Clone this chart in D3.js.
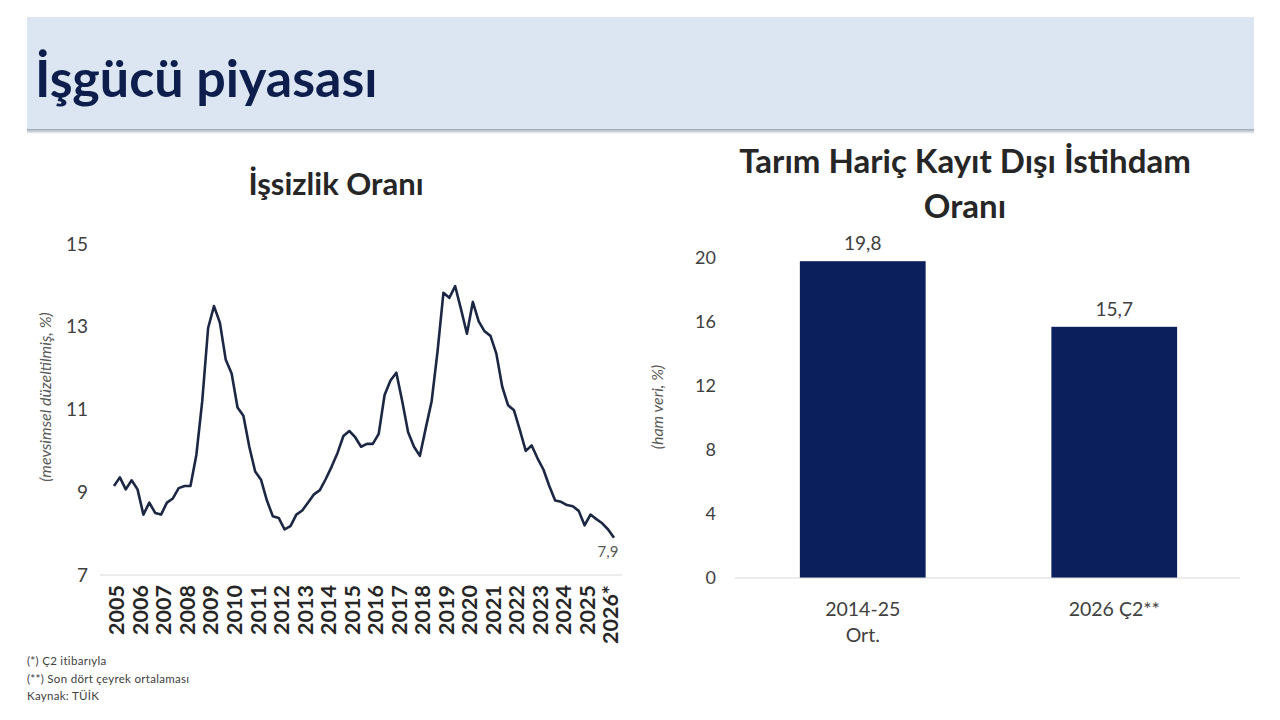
<!DOCTYPE html>
<html><head><meta charset="utf-8">
<script src="https://cdn.jsdelivr.net/npm/d3@7/dist/d3.min.js"></script>
<style>html,body{margin:0;padding:0;background:#fff}svg{display:block}</style>
</head><body>
<svg id="c" width="1280" height="720"></svg>
<script>
// ---- Data ----
const pageTitle = "İşgücü piyasası";
const leftTitle = "İşsizlik Oranı";
const leftAxisTitle = "(mevsimsel düzeltilmiş, %)";
const startYear = 2005;
// quarterly, 2005Ç1 - 2026Ç2
const unemployment = [
 9.15,9.36,9.07,9.29, 9.07,8.46,8.75,8.5, 8.46,8.75,8.85,9.1, 9.15,9.15,9.9,11.2,
 12.97,13.5,13.1,12.2, 11.87,11.05,10.85,10.1, 9.5,9.3,8.8,8.42, 8.38,8.1,8.18,8.46,
 8.56,8.75,8.95,9.05, 9.32,9.62,9.95,10.36, 10.48,10.33,10.1,10.17, 10.17,10.41,11.35,11.7,
 11.89,11.2,10.45,10.1, 9.88,10.55,11.2,12.4, 13.82,13.7,13.98,13.42, 12.83,13.6,13.13,12.89,
 12.78,12.35,11.55,11.1, 10.98,10.5,10.0,10.13, 9.82,9.55,9.15,8.8, 8.77,8.69,8.66,8.55,
 8.2,8.46,8.35,8.25, 8.1,7.9
];
const yearLabels = ["2005","2006","2007","2008","2009","2010","2011","2012","2013","2014","2015",
 "2016","2017","2018","2019","2020","2021","2022","2023","2024","2025","2026*"];
const leftTicks = [7,9,11,13,15];
const lastLabel = "7,9";

const rightTitle = ["Tarım Hariç Kayıt Dışı İstihdam","Oranı"];
const rightAxisTitle = "(ham veri, %)";
const barCats = ["2014-25|Ort.","2026 Ç2**"];
const barValues = [19.8, 15.7];
const barLabels = ["19,8","15,7"];
const rightTicks = [0,4,8,12,16,20];

const footnotes = ["(*) Ç2 itibarıyla","(**) Son dört çeyrek ortalaması","Kaynak: TÜİK"];

// ---- Drawing ----
const svg = d3.select("#c");
const F = "Lato, 'Open Sans', 'DejaVu Sans', sans-serif";
const navy = "#0a1f5c";

// header band
const grad = svg.append("defs").append("linearGradient").attr("id","sh").attr("x1",0).attr("x2",0).attr("y1",0).attr("y2",1);
grad.append("stop").attr("offset","0%").attr("stop-color","#9aa6b4");
grad.append("stop").attr("offset","100%").attr("stop-color","#ffffff");
svg.append("rect").attr("x",27).attr("y",129).attr("width",1227).attr("height",5).attr("fill","url(#sh)");
svg.append("rect").attr("x",27).attr("y",17).attr("width",1227).attr("height",112).attr("fill","#dce6f2");
svg.append("text").attr("x",35).attr("y",97).attr("font-family",F).attr("font-weight",700)
  .attr("font-size",52).attr("fill","#0d1e4c").text(pageTitle);

// ---- Left chart ----
const x = d3.scaleLinear().domain([startYear, startYear + 21.25]).range([114, 614]);
const y = d3.scaleLinear().domain([7,15]).range([575, 244]);

svg.append("text").attr("x",336).attr("y",195).attr("text-anchor","middle").attr("font-family",F)
  .attr("font-weight",700).attr("font-size",31).attr("fill","#262626").text(leftTitle);

svg.append("line").attr("x1",100).attr("x2",622).attr("y1",y(7)).attr("y2",y(7))
  .attr("stroke","#d9d9d9").attr("stroke-width",1.2);

const yAxL = svg.append("g").attr("transform","translate(92,0)")
  .call(d3.axisLeft(y).tickValues(leftTicks).tickSize(0).tickPadding(4).tickFormat(d3.format("d")));
yAxL.select(".domain").remove();
yAxL.selectAll("text").attr("font-family",F).attr("font-size",19).attr("fill","#404040");

svg.append("text").attr("transform","translate(51,397) rotate(-90)").attr("text-anchor","middle")
  .attr("font-family",F).attr("font-style","italic").attr("font-size",16).attr("fill","#595959")
  .text(leftAxisTitle);

const line = d3.line().x((d,i)=>x(startYear + i/4)).y(d=>y(d));
svg.append("path").datum(unemployment).attr("d",line).attr("fill","none")
  .attr("stroke","#1c2743").attr("stroke-width",2.6).attr("stroke-linejoin","round");

svg.append("text").attr("x",x(startYear + (unemployment.length-1)/4) - 6).attr("y",557)
  .attr("text-anchor","middle").attr("font-family",F).attr("font-size",15).attr("fill","#595959").text(lastLabel);

svg.append("g").selectAll("text").data(yearLabels).join("text")
  .attr("transform",(d,i)=>`translate(${x(startYear+i+0.1)+8},585) rotate(-90)`)
  .attr("text-anchor","end").attr("font-family",F).attr("font-weight",700).attr("font-size",21.5)
  .attr("fill","#262626").text(d=>d);

svg.append("g").selectAll("text").data(footnotes).join("text")
  .attr("x",27).attr("y",(d,i)=>665+i*17.5).attr("font-family",F).attr("font-size",11.5)
  .attr("letter-spacing",0.3).attr("fill","#404040").text(d=>d);

// ---- Right chart ----
svg.append("g").selectAll("text").data(rightTitle).join("text")
  .attr("x",965).attr("y",(d,i)=>173+i*45).attr("text-anchor","middle").attr("font-family",F)
  .attr("font-weight",700).attr("font-size",33).attr("fill","#262626").text(d=>d);

const xb = d3.scaleBand().domain(barCats).range([737,1240]).paddingInner(0.5).paddingOuter(0.25);
const yb = d3.scaleLinear().domain([0,20]).range([578,258]);

const yAxR = svg.append("g").attr("transform","translate(720,0)")
  .call(d3.axisLeft(yb).tickValues(rightTicks).tickSize(0).tickPadding(4).tickFormat(d3.format("d")));
yAxR.select(".domain").remove();
yAxR.selectAll("text").attr("font-family",F).attr("font-size",18).attr("fill","#404040");

svg.append("text").attr("transform","translate(663,407) rotate(-90)").attr("text-anchor","middle")
  .attr("font-family",F).attr("font-style","italic").attr("font-size",16).attr("fill","#595959")
  .text(rightAxisTitle);

svg.append("g").selectAll("rect").data(barValues).join("rect")
  .attr("x",(d,i)=>xb(barCats[i])).attr("width",xb.bandwidth())
  .attr("y",d=>yb(d)).attr("height",d=>yb(0)-yb(d)).attr("fill",navy);

svg.append("line").attr("x1",735).attr("x2",1240).attr("y1",yb(0)).attr("y2",yb(0))
  .attr("stroke","#d9d9d9").attr("stroke-width",1.2);

svg.append("g").selectAll("text").data(barValues).join("text")
  .attr("x",(d,i)=>xb(barCats[i])+xb.bandwidth()/2).attr("y",d=>yb(d)-11)
  .attr("text-anchor","middle").attr("font-family",F).attr("font-size",19).attr("fill","#404040")
  .text((d,i)=>barLabels[i]);

const cat = svg.append("g").selectAll("text").data(barCats).join("text")
  .attr("x",d=>xb(d)+xb.bandwidth()/2).attr("y",616).attr("text-anchor","middle")
  .attr("font-family",F).attr("font-size",19.5).attr("fill","#404040");
cat.each(function(d){
  const t = d3.select(this);
  d.split("|").forEach((s,k)=>t.append("tspan").attr("x",t.attr("x")).attr("dy",k?26:0).text(s));
});
</script>
</body></html>
